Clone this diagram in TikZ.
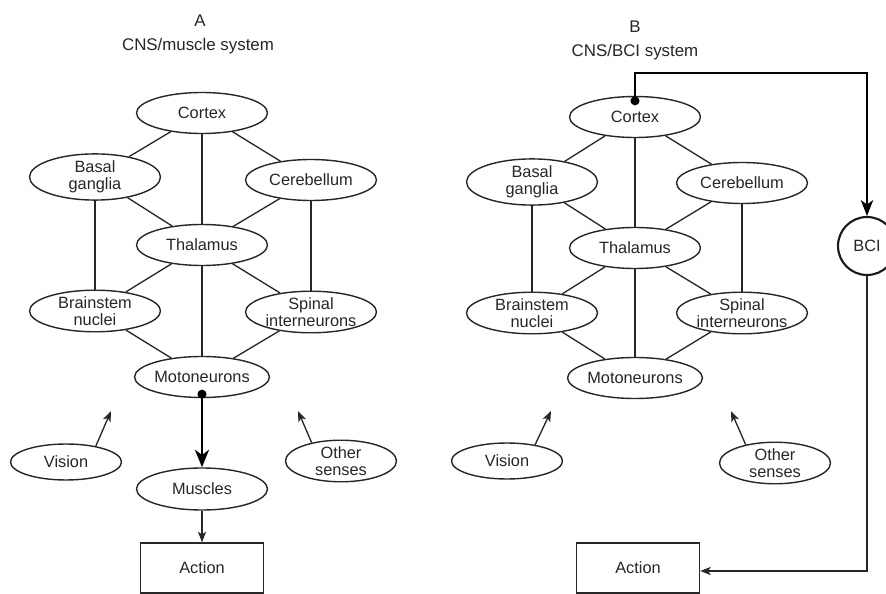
\documentclass[tikz,border=0pt]{standalone}
\usepackage{fontspec}
\setmainfont{Liberation Sans}
\usetikzlibrary{shapes.geometric,arrows.meta,calc}

\begin{document}
\begin{tikzpicture}[x=0.02cm,y=-0.02cm,
  every node/.style={font=\fontsize{9.3}{9.9}\selectfont, text=black!85},
  region/.style={draw=black!85, line width=0.8pt, ellipse, inner sep=0pt,
    minimum width=2.62cm, minimum height=0.82cm, align=center},
  sense/.style={region, minimum width=2.22cm, minimum height=0.72cm},
  actionbox/.style={draw=black!85, line width=0.8pt, rectangle,
    minimum width=2.46cm, minimum height=1.0cm},
  bcinode/.style={draw=black!90, line width=1.2pt, circle, inner sep=0pt,
    minimum size=1.16cm},
  link/.style={draw=black!85, line width=0.75pt},
  drive/.style={draw=black, line width=1.4pt,
    -{Stealth[length=10pt,width=8pt,inset=3pt]}},
  thinarrow/.style={link, -{Stealth[length=6pt,width=4.6pt,inset=1.5pt]}},
  bus/.style={draw=black, line width=1.1pt,
    -{Stealth[length=9pt,width=7pt,inset=2.5pt]}},
  title/.style={font=\fontsize{9.6}{11}\selectfont}
]
\useasboundingbox (0,0) rectangle (886,594);
\clip (0,0) rectangle (886,594);

% ---------- Panel A: CNS/muscle system ----------
\node[title] (labA) at (200,21) {A};
\node[title] (capA) at (198,46) {CNS/muscle system};

\node[region] (cxA) at (202,113) {Cortex};
\node[region] (bgA) at (95,177)  {Basal\\ganglia};
\node[region] (cbA) at (311,180) {Cerebellum};
\node[region] (thA) at (202,245) {Thalamus};
\node[region] (bsA) at (95,311)  {Brainstem\\nuclei};
\node[region] (spA) at (311,312) {Spinal\\interneurons};
\node[region] (mnA) at (202,377) {Motoneurons};
\node[sense]  (viA) at (66,462)  {Vision};
\node[sense]  (osA) at (341,461) {Other\\senses};
\node[region, minimum height=0.84cm] (muA) at (202,489) {Muscles};
\node[actionbox] (acA) at (202,568) {Action};

\draw[link] (cxA) -- (bgA);
\draw[link] (cxA) -- (cbA);
\draw[link] (cxA) -- (thA);
\draw[link] (bgA) -- (thA);
\draw[link] (cbA) -- (thA);
\draw[link] (bgA) -- (bsA);
\draw[link] (cbA) -- (spA);
\draw[link] (thA) -- (bsA);
\draw[link] (thA) -- (spA);
\draw[link] (thA) -- (mnA);
\draw[link] (bsA) -- (mnA);
\draw[link] (spA) -- (mnA);

\coordinate (dotA) at ($(mnA.south)+(0,-4)$);
\draw[drive] (dotA) -- (muA.north);
\fill[black] (dotA) circle (2.6pt);
\draw[thinarrow] (muA.south) -- (acA.north);

\coordinate (viAtip) at (111,411);
\coordinate (osAtip) at (298,411);
\draw[thinarrow] (viA.28) -- (viAtip);
\draw[thinarrow] (osA.148) -- (osAtip);

% ---------- Panel B: CNS/BCI system ----------
\node[title] (labB) at (635,27) {B};
\node[title] (capB) at (635,52) {CNS/BCI system};

\node[region] (cxB) at (635,117) {Cortex};
\node[region] (bgB) at (532,182) {Basal\\ganglia};
\node[region] (cbB) at (742,183) {Cerebellum};
\node[region] (thB) at (635,248) {Thalamus};
\node[region] (bsB) at (532,313) {Brainstem\\nuclei};
\node[region] (spB) at (742,313) {Spinal\\interneurons};
\node[region] (mnB) at (635,378) {Motoneurons};
\node[sense]  (viB) at (507,461) {Vision};
\node[sense]  (osB) at (775,463) {Other\\senses};
\node[actionbox] (acB) at (638,568) {Action};
\node[bcinode] (bci) at (867,246) {BCI};

\draw[link] (cxB) -- (bgB);
\draw[link] (cxB) -- (cbB);
\draw[link] (cxB) -- (thB);
\draw[link] (bgB) -- (thB);
\draw[link] (cbB) -- (thB);
\draw[link] (bgB) -- (bsB);
\draw[link] (cbB) -- (spB);
\draw[link] (thB) -- (bsB);
\draw[link] (thB) -- (spB);
\draw[link] (thB) -- (mnB);
\draw[link] (bsB) -- (mnB);
\draw[link] (spB) -- (mnB);

\coordinate (viBtip) at (551,411);
\coordinate (osBtip) at (731,411);
\draw[thinarrow] (viB.30) -- (viBtip);
\draw[thinarrow] (osB.148) -- (osBtip);

% cortical signal routed through the BCI to the action
\coordinate (dotB) at ($(cxB.north)+(0,5)$);
\coordinate (busTop) at (867,73);
\coordinate (busBot) at (867,571);
\draw[bus] (dotB) |- (busTop) -- (bci.north);
\fill[black] (dotB) circle (2.6pt);
\draw[thinarrow] (bci.south) -- (busBot) -- (acB.east |- busBot);
\end{tikzpicture}
\end{document}
